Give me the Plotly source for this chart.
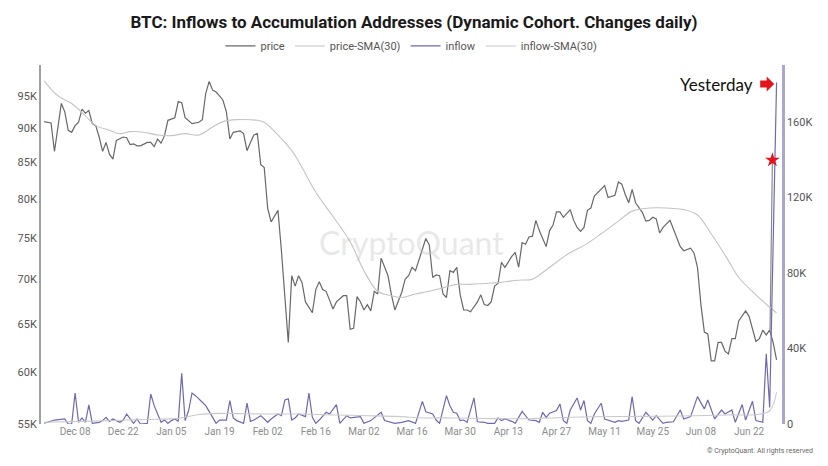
import math
import plotly.graph_objects as go
import pandas as pd

# ---- data (day offsets relative to 2025-12-08) ----
BASE_DATE = "2025-12-08"

price_day = [-9, -7, -6, -4, -3, -2, -1, 0, 1, 2, 3, 4, 5, 6, 7, 8, 9, 10, 11, 12, 14, 15, 16, 17, 18, 19, 21, 22, 23, 24,
             25, 26, 27, 29, 30, 31, 32, 33, 34, 36, 37, 38, 39, 40, 41, 42, 43, 44, 45, 46, 48, 49, 50, 51, 52, 53, 54, 55,
             56, 57, 59, 60, 62, 63, 64, 65, 66, 67, 69, 70, 71, 72, 73, 74, 75, 76, 78, 79, 80, 81, 82, 83, 84, 85, 86, 87,
             88, 89, 91, 92, 93, 95, 96, 97, 98, 99, 100, 102, 103, 104, 105, 106, 107, 108, 109, 110, 111, 112, 113, 114,
             115, 117, 118, 119, 120, 121, 122, 123, 124, 125, 127, 128, 129, 130, 131, 132, 133, 134, 135, 137, 138, 139,
             140, 141, 142, 143, 144, 145, 146, 147, 148, 149, 150, 151, 153, 154, 155, 157, 158, 159, 160, 161, 162, 163,
             165, 166, 167, 168, 169, 170, 171, 172, 173, 174, 176, 177, 179, 180, 181, 182, 183, 184, 185, 186, 187, 188,
             189, 190, 191, 192, 193, 195, 196, 198, 199, 200, 201, 202, 203, 204]
price_k = [91.0, 90.8, 86.6, 93.8, 92.5, 89.7, 89.4, 90.4, 90.9, 92.9, 92.3, 92.7, 90.7, 90.4, 88.7, 86.6, 87.9, 86.2, 85.5,
           88.2, 88.7, 88.6, 87.6, 87.7, 87.4, 87.4, 87.9, 87.9, 87.3, 88.4, 87.8, 88.9, 91.2, 91.6, 94.1, 93.9, 91.6, 91.2,
           90.7, 90.9, 91.3, 95.4, 97.3, 95.9, 95.6, 95.0, 94.3, 92.5, 88.4, 89.4, 89.6, 89.2, 86.7, 87.9, 89.0, 89.2, 84.7,
           84.3, 78.8, 77.0, 78.5, 73.4, 63.0, 70.4, 69.2, 70.4, 69.6, 67.4, 66.2, 68.8, 69.7, 68.8, 68.6, 67.6, 66.6, 67.4,
           68.1, 68.1, 64.4, 64.5, 68.0, 67.4, 66.5, 67.1, 66.4, 68.6, 68.3, 72.5, 70.4, 68.2, 66.5, 68.5, 70.0, 70.4, 71.4,
           71.0, 72.2, 74.9, 74.1, 70.2, 70.5, 70.4, 68.3, 67.9, 71.0, 70.8, 71.4, 68.2, 66.5, 66.5, 66.3, 67.4, 68.2, 67.1,
           67.0, 67.4, 69.2, 69.5, 72.0, 71.4, 72.7, 73.2, 71.4, 74.4, 74.2, 75.1, 75.2, 77.2, 75.9, 73.9, 75.9, 76.6, 78.3,
           78.3, 77.6, 78.1, 78.6, 77.2, 76.3, 75.8, 76.3, 78.5, 78.8, 80.4, 81.4, 81.8, 80.2, 80.5, 82.3, 82.0, 80.6, 79.5,
           81.3, 79.5, 78.2, 77.1, 77.2, 77.6, 77.4, 75.6, 76.3, 76.7, 77.2, 76.1, 73.9, 73.4, 73.7, 73.1, 71.4, 67.1, 64.1,
           63.9, 61.1, 61.1, 63.0, 63.0, 62.1, 61.8, 63.4, 63.4, 65.3, 66.4, 65.8, 63.1, 63.4, 64.3, 63.8, 64.3, 63.0, 61.2]

price_sma_day = [-9, -5, -1, 3, 6, 10, 13, 16, 20, 24, 28, 32, 36, 40, 43, 47, 53, 55, 59, 63, 65, 70, 75, 80, 84, 88, 92,
                 95, 99, 103, 107, 111, 115, 119, 123, 127, 130, 133, 138, 143, 149, 153, 158, 162, 167, 172, 177, 181, 185,
                 190, 193, 198, 202, 204]
price_sma_k = [97.4, 95.0, 93.8, 91.9, 90.4, 89.7, 89.2, 89.5, 89.4, 89.0, 88.9, 89.2, 89.0, 90.2, 91.0, 91.3, 91.2, 90.9,
               89.0, 86.7, 85.2, 80.9, 77.7, 74.5, 71.0, 68.6, 68.1, 67.9, 68.3, 68.6, 69.0, 69.4, 69.4, 69.5, 69.6, 69.8,
               69.9, 70.0, 71.4, 72.9, 74.3, 75.5, 77.1, 78.4, 78.8, 78.8, 78.6, 77.9, 75.5, 72.2, 70.2, 68.2, 66.8, 66.2]

inflow_day = [-9, -6, -3, -2, -1, 0, 1, 2, 3, 4, 5, 7, 8, 9, 10, 11, 13, 14, 15, 17, 18, 19, 21, 22, 23, 25, 26, 27, 28, 29,
              30, 31, 32, 33, 34, 35, 37, 38, 40, 41, 42, 44, 45, 46, 47, 49, 50, 51, 52, 54, 56, 57, 59, 60, 61, 62, 63, 64,
              65, 67, 68, 69, 70, 71, 73, 74, 76, 77, 79, 80, 83, 84, 86, 89, 90, 93, 95, 97, 99, 101, 102, 104, 105, 106,
              108, 109, 110, 111, 112, 113, 114, 116, 117, 119, 120, 122, 123, 124, 125, 127, 128, 130, 132, 134, 135, 136,
              137, 138, 140, 141, 142, 143, 144, 146, 147, 148, 149, 150, 151, 153, 154, 155, 157, 158, 159, 161, 162, 163,
              164, 166, 168, 169, 171, 172, 174, 176, 177, 179, 181, 183, 184, 186, 187, 188, 189, 191, 192, 194, 195, 197,
              198, 200, 201, 202, 204]
inflow_k = [0.4, 2.1, 2.65, 0.0, 0.0, 16.4, 0.9, 3.2, 0.9, 10.1, 0.35, 0.9, 1.8, 3.5, 1.4, 2.65, 0.9, 2.1, 5.3, 0.35, 2.65,
            0.0, 0.35, 15.9, 9.7, 0.9, 2.1, 0.35, 1.8, 2.65, 1.4, 26.8, 1.8, 7.0, 16.4, 15.0, 11.5, 9.7, 3.5, 0.35, 2.1, 2.1,
            12.4, 3.2, 1.8, 0.35, 11.0, 1.4, 2.1, 4.4, 0.9, 2.65, 5.3, 4.4, 12.7, 13.3, 2.1, 3.2, 5.3, 3.9, 16.4, 3.5, 0.35,
            2.1, 6.2, 5.3, 10.3, 0.35, 4.4, 3.2, 3.9, 0.35, 1.8, 6.2, 1.8, 0.35, 0.9, 1.8, 0.35, 12.0, 6.5, 5.3, 2.1, 0.35,
            15.0, 9.7, 6.2, 5.7, 1.8, 2.1, 0.9, 13.8, 1.2, 0.9, 0.35, 0.35, 3.2, 1.8, 2.65, 1.4, 0.35, 6.7, 2.1, 1.8, 0.9,
            6.2, 3.5, 5.7, 7.1, 10.6, 1.8, 0.35, 7.4, 13.8, 7.4, 12.4, 1.8, 0.35, 5.3, 11.0, 2.65, 2.1, 0.9, 1.8, 1.4, 2.1,
            14.5, 1.8, 0.35, 6.2, 2.1, 4.4, 0.35, 0.9, 1.2, 7.4, 2.65, 3.9, 14.5, 8.0, 12.7, 2.65, 5.3, 7.4, 5.3, 7.4, 0.9,
            10.3, 2.1, 12.0, 1.8, 0.9, 37.1, 8.8, 180.7]

inflow_sma_day = [-9, 5, 20, 30, 36, 42, 55, 65, 75, 85, 95, 100, 110, 120, 130, 140, 150, 160, 170, 180, 190, 198, 202, 204]
inflow_sma_k = [0.9, 1.5, 2.4, 3.0, 5.0, 5.6, 5.3, 5.3, 4.8, 4.4, 3.9, 3.3, 3.2, 2.9, 2.8, 3.3, 3.8, 4.0, 4.1, 4.4, 4.8,
                5.0, 7.0, 16.8]

# annotation marks (star drawn by the author, on the inflow axis)
star_day, star_k = 202.8, 139.7
connector_day, connector_k = 202.1, 49.7

left_ticks = [55, 60, 65, 70, 75, 80, 85, 90, 95]
right_ticks = [0, 40, 80, 120, 160]
x_tick_start = "2025-12-08"


def to_dates(days):
    base = pd.Timestamp(BASE_DATE)
    return [base + pd.Timedelta(days=float(d)) for d in days]


def k(vals):
    return [v * 1000 for v in vals]


fig = go.Figure()
fig.add_trace(go.Scatter(x=to_dates(price_day), y=k(price_k), name="price", mode="lines",
                         line=dict(color="#686868", width=1.2), yaxis="y"))
fig.add_trace(go.Scatter(x=to_dates(price_sma_day), y=k(price_sma_k), name="price-SMA(30)", mode="lines",
                         line=dict(color="#c4c4c4", width=1.1, shape="spline"), yaxis="y"))
fig.add_trace(go.Scatter(x=to_dates(inflow_day), y=k(inflow_k), name="inflow", mode="lines",
                         line=dict(color="#6f6aae", width=1.2), yaxis="y2"))
fig.add_trace(go.Scatter(x=to_dates(inflow_sma_day), y=k(inflow_sma_k), name="inflow-SMA(30)", mode="lines",
                         line=dict(color="#c9c9c9", width=1.1, shape="spline"), yaxis="y2"))
# author's star marker
fig.add_trace(go.Scatter(x=to_dates([star_day]), y=k([star_k]), mode="markers", showlegend=False, hoverinfo="skip",
                         marker=dict(symbol="star", size=11, color="#e3141c", line=dict(width=0)), yaxis="y2"))

fig.add_shape(type="line", xref="x", yref="y2",
              x0=to_dates([connector_day])[0], y0=connector_k * 1000,
              x1=to_dates([star_day])[0], y1=star_k * 1000,
              line=dict(color="#8a8a8a", width=1.2), layer="below")

# red block arrow next to "Yesterday"
fig.add_shape(type="path", xref="paper", yref="paper", xsizemode="pixel", ysizemode="pixel",
              xanchor=0.980, yanchor=0.947,
              path="M -7,-3.5 L -0.5,-3.5 L -0.5,-7.5 L 7,0 L -0.5,7.5 L -0.5,3.5 L -7,3.5 Z",
              fillcolor="#e3141c", line=dict(width=0))

fig.update_layout(
    width=828, height=466,
    margin=dict(l=41, r=46, t=65, b=42),
    paper_bgcolor="white", plot_bgcolor="white",
    title=dict(text="<b>BTC: Inflows to Accumulation Addresses (Dynamic Cohort. Changes daily)</b>",
               x=0.5, xanchor="center", y=1 - 22 / 466, yanchor="middle",
               font=dict(family="Roboto", size=17, color="#1a1a1a")),
    legend=dict(orientation="h", x=0.5, xanchor="center", y=1.053, yanchor="middle",
                font=dict(family="Roboto", size=11, color="#555555"), itemwidth=30,
                bgcolor="rgba(0,0,0,0)"),
    showlegend=True,
    xaxis=dict(type="date", range=["2025-11-28 02:00", "2026-07-01 14:00"],
               tick0=x_tick_start, dtick=14 * 86400000, tickformat="%b %d",
               showgrid=False, zeroline=False, showline=False, ticks="",
               tickfont=dict(family="Roboto", size=10, color="#8c8c8c")),
    yaxis=dict(type="log", range=[math.log10(55000), 5],
               tickvals=k(left_ticks), ticktext=[f"{t}K" for t in left_ticks],
               showgrid=False, zeroline=False, showline=True, linecolor="#a0a0a0", linewidth=2,
               ticks="", tickfont=dict(family="Roboto", size=11, color="#555555")),
    yaxis2=dict(overlaying="y", side="right", range=[0, 190000],
                tickvals=k(right_ticks), ticktext=["0" if t == 0 else f"{t}K" for t in right_ticks],
                showgrid=False, zeroline=False, showline=True, linecolor="#aaa6cc", linewidth=2.5,
                ticks="", tickfont=dict(family="Roboto", size=11, color="#555555")),
)

fig.add_annotation(text="CryptoQuant", xref="paper", yref="paper", x=0.50, y=0.505,
                   showarrow=False, font=dict(family="Lato", size=32, color="rgba(190,190,190,0.35)"))
fig.add_annotation(text="Yesterday", xref="paper", yref="paper", x=0.912, y=0.947, xanchor="center",
                   yanchor="middle", showarrow=False, font=dict(family="Lato", size=17, color="#111111"))
fig.add_annotation(text="© CryptoQuant. All rights reserved", xref="paper", yref="paper",
                   x=1.0 + 33 / 741, y=-(451 - 424) / 359, xanchor="right", yanchor="middle",
                   showarrow=False, font=dict(family="Roboto", size=7, color="#666666"))

fig.write_html("out.html")
